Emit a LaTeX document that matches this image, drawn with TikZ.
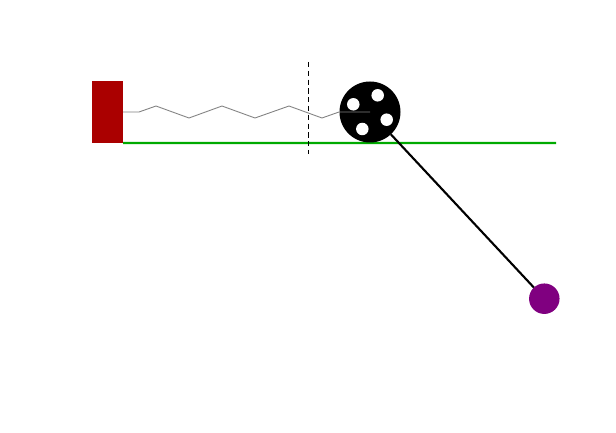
\documentclass[tikz,border=0pt]{standalone}
\definecolor{wallred}{HTML}{AA0000}
\definecolor{railgreen}{HTML}{00AA00}
\definecolor{ballpurple}{HTML}{800080}
\tikzset{
  disc/.style={circle,fill,inner sep=0pt,outer sep=0pt},
  hole/.style={disc,fill=white,minimum size=0.25cm},
}
\begin{document}
\begin{tikzpicture}
\useasboundingbox (0,0) rectangle (12.32,8.66);
\node[fill=wallred,inner sep=0pt,outer sep=0pt,minimum width=0.62cm,minimum height=1.24cm] (wall) at (2.15,6.42) {};
\coordinate (railend) at (11.12,5.8);
\coordinate (cuttop) at (6.17,7.42);
\coordinate (cutbottom) at (6.17,5.58);
\draw[railgreen,line width=1.4pt] (wall.south east) -- (railend);
\node[disc,minimum size=1.22cm] (wheel) at (7.4,6.42) {};
\node[disc,fill=ballpurple,minimum size=0.61cm] (ball) at (10.886,2.686) {};
\draw[line width=1.2pt] (wheel) -- (ball);
\foreach \hx/\hy [count=\i] in {7.066/6.574,7.554/6.754,7.734/6.266,7.246/6.08}
  \node[hole] (hole\i) at (\hx,\hy) {};
\draw[gray,line width=0.5pt] (wall.east) -- (2.78,6.42) -- (3.12,6.54) -- (3.78,6.30) -- (4.44,6.54)
  -- (5.10,6.30) -- (5.78,6.54) -- (6.44,6.30) -- (6.78,6.42) -- (wheel.center);
\draw[densely dashed,line width=0.5pt] (cuttop) -- (cutbottom);
\end{tikzpicture}
\end{document}
